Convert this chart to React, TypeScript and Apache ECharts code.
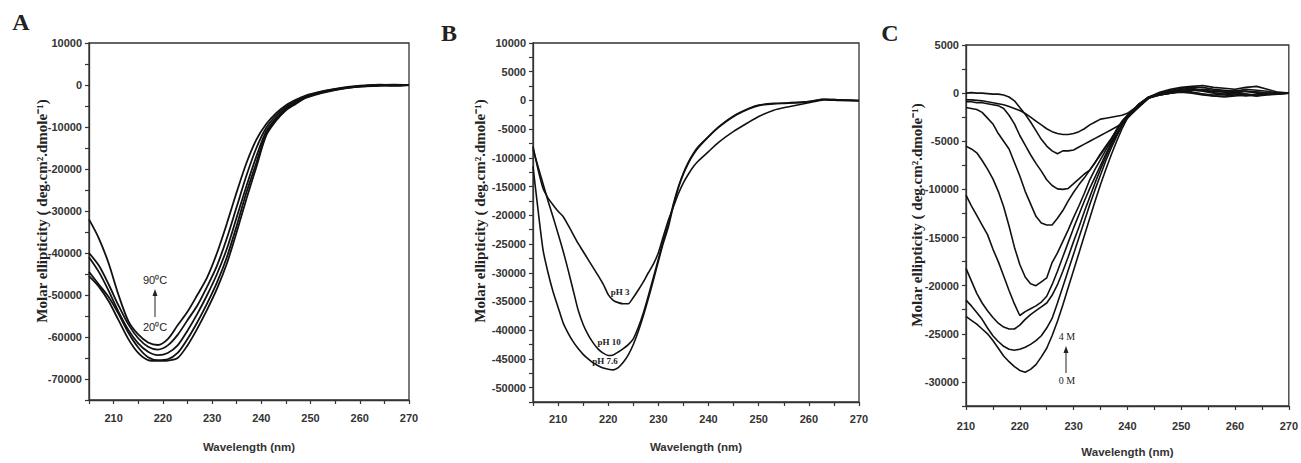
import React, { useEffect, useRef } from "react";
import * as echarts from "echarts";

// ---------- Panel A (temperature) ----------
const wlA = [205, 207, 209, 211, 213, 215, 217, 219, 221, 223, 225, 227, 229, 231, 233, 235, 237, 239, 241, 243, 245, 247, 249, 252, 255, 258, 261, 264, 267, 270];
const tempA1 = [-32000, -36500, -42500, -50000, -56200, -59400, -61300, -61900, -60500, -57200, -54000, -50000, -45800, -40000, -33000, -25500, -18500, -13000, -9300, -6700, -4800, -3500, -2500, -1600, -900, -400, -100, 100, -100, 0];
const tempA2 = [-40000, -43000, -47500, -52500, -57000, -60300, -62300, -63000, -62000, -59500, -56000, -52500, -48000, -43000, -36500, -29000, -21500, -15000, -10200, -7300, -5200, -3800, -2700, -1700, -1000, -500, -200, 0, 100, 0];
const tempA3 = [-41000, -44500, -49000, -54000, -58300, -61500, -63500, -64300, -63800, -62000, -58500, -54500, -50000, -45000, -39000, -31500, -24000, -17000, -11000, -7900, -5600, -4100, -2900, -1800, -1100, -500, -200, -100, 0, 0];
const tempA4 = [-44500, -47500, -50500, -54500, -59000, -62500, -64800, -65500, -65300, -63800, -60500, -56500, -52000, -47000, -41000, -33500, -25500, -18500, -11500, -8200, -5800, -4300, -3000, -1900, -1100, -600, -300, -200, 0, 0];
const tempA5 = [-45500, -48000, -51500, -56000, -60500, -63800, -65500, -65700, -65600, -65000, -62000, -58000, -53500, -48500, -42500, -35000, -27000, -19500, -12000, -8500, -6000, -4500, -3100, -2000, -1200, -600, -300, -100, -200, 0];
const xMajorA = [210, 220, 230, 240, 250, 260, 270];
const xTicksA = [205, 210, 215, 220, 225, 230, 235, 240, 245, 250, 255, 260, 265, 270];
const yMajorA = [10000, 0, -10000, -20000, -30000, -40000, -50000, -60000, -70000];
const yTicksA = [10000, 5000, 0, -5000, -10000, -15000, -20000, -25000, -30000, -35000, -40000, -45000, -50000, -55000, -60000, -65000, -70000, -75000];

// ---------- Panel B (pH) ----------
const wlB = [205, 206, 207, 208, 209, 210, 211, 212, 213, 214, 215, 216, 217, 218, 219, 220, 221, 222, 223, 224, 225, 226, 227, 228, 229, 230, 231, 232, 233, 234, 235, 236, 237, 238, 240, 242, 245, 248, 250, 253, 256, 260, 263, 266, 270];
const pH3 = [-8000, -12000, -15300, -17000, -18200, -19300, -20200, -21700, -23300, -24900, -26300, -27700, -29100, -30500, -32000, -33800, -34800, -35200, -35400, -35400, -34300, -33000, -31600, -30000, -28500, -26500, -23600, -20800, -18500, -16200, -14300, -12800, -11500, -10500, -8900, -7300, -5400, -3800, -2800, -1700, -1100, -400, 100, 0, -100];
const pH10 = [-8500, -11500, -14500, -17500, -20300, -23200, -26200, -29500, -33000, -36500, -39000, -40800, -42200, -43300, -44000, -44400, -44300, -43800, -43200, -42500, -41500, -39500, -37000, -34000, -30800, -27600, -24300, -21500, -18000, -15000, -12600, -10700, -9200, -8000, -6300, -4700, -2800, -1500, -900, -600, -500, -200, 200, 100, 0];
const pH76 = [-11500, -19000, -26000, -30000, -33300, -36000, -38700, -40500, -42000, -43200, -44200, -45000, -45700, -46200, -46600, -46800, -46900, -46500, -45600, -44300, -42500, -40200, -37500, -34500, -31300, -28000, -24800, -22000, -18300, -15200, -12800, -10900, -9400, -8200, -6300, -4600, -2700, -1400, -800, -500, -400, -200, 200, 100, 0];
const xMajorB = [210, 220, 230, 240, 250, 260, 270];
const xTicksB = [205, 210, 215, 220, 225, 230, 235, 240, 245, 250, 255, 260, 265, 270];
const yMajorB = [10000, 5000, 0, -5000, -10000, -15000, -20000, -25000, -30000, -35000, -40000, -45000, -50000];
const yTicksB = [10000, 7500, 5000, 2500, 0, -2500, -5000, -7500, -10000, -12500, -15000, -17500, -20000, -22500, -25000, -27500, -30000, -32500, -35000, -37500, -40000, -42500, -45000, -47500, -50000, -52500];

// ---------- Panel C (denaturant 0 M .. 4 M) ----------
const wlC = [210, 211, 212, 213, 214, 215, 216, 217, 218, 219, 220, 221, 222, 223, 224, 225, 226, 227, 228, 229, 230, 231, 232, 233, 234, 235, 236, 237, 238, 239, 240, 242, 244, 246, 248, 250, 252, 254, 256, 258, 260, 262, 264, 266, 268, 270];
const c1 = [-700, -700, -750, -800, -900, -1000, -1100, -1200, -1400, -1600, -1800, -2100, -2500, -2900, -3300, -3700, -4000, -4200, -4300, -4300, -4200, -4000, -3700, -3300, -3000, -2700, -2600, -2500, -2400, -2300, -2100, -1300, -400, 100, 400, 600, 700, 800, 600, 500, 400, 600, 700, 400, 100, 0];
const c2 = [0, 50, 0, 0, -50, -100, -100, -200, -400, -800, -1500, -2200, -3000, -3900, -4800, -5500, -6000, -6300, -6000, -6000, -5900, -5600, -5300, -5000, -4700, -4400, -4100, -3800, -3500, -3100, -2600, -1500, -500, 0, 300, 500, 600, 600, 400, 300, 200, 400, 300, 200, 0, 0];
const c3 = [-900, -900, -1000, -1000, -1100, -1200, -1300, -1600, -2300, -3200, -4400, -5400, -6400, -7300, -8100, -9000, -9600, -9950, -10000, -9900, -9400, -8900, -8400, -8000, -7200, -6300, -5500, -4700, -3800, -3000, -2500, -1500, -500, -100, 200, 300, 300, 200, 0, -100, 0, 200, 100, 0, -100, 0];
const c4 = [-1500, -1600, -1700, -2000, -2600, -3200, -4200, -5000, -5800, -7200, -8600, -10200, -11500, -12800, -13500, -13700, -13700, -13000, -12200, -11200, -10300, -9500, -8800, -8000, -7200, -6400, -5600, -4800, -3800, -2900, -2300, -1400, -500, -200, 0, 100, 0, -200, -300, -300, -200, -100, -300, -200, -100, 0];
const c5 = [-5500, -5800, -6200, -7000, -7900, -8900, -10200, -11800, -13800, -16000, -17800, -19100, -19800, -20000, -19600, -19200, -17600, -16600, -15400, -14200, -12900, -11700, -10400, -9000, -7900, -6900, -5900, -5000, -3900, -3000, -2300, -1300, -400, -100, 100, 200, 100, -100, -200, -100, -200, -300, -200, -100, 0, 0];
const c6 = [-10600, -11700, -12700, -13700, -14700, -16200, -17500, -19000, -20500, -21900, -23100, -22700, -22400, -22100, -21700, -21100, -19900, -18500, -17000, -15500, -14000, -12600, -11200, -9900, -8700, -7500, -6300, -5200, -4200, -3300, -2500, -1200, -400, -100, 100, 300, 400, 300, 100, 200, 300, 200, 0, -100, 0, 0];
const c7 = [-18200, -19500, -20800, -21800, -22600, -23300, -23900, -24300, -24500, -24500, -24100, -23500, -23000, -22600, -22200, -21800, -21000, -19900, -18500, -17000, -15400, -13900, -12300, -10800, -9300, -7900, -6600, -5400, -4300, -3300, -2500, -1200, -400, -200, 0, 200, 100, -100, -300, -400, -300, -200, -300, -100, 0, 0];
const c8 = [-21500, -22100, -22800, -23500, -24400, -25200, -25800, -26300, -26600, -26700, -26600, -26400, -26100, -25700, -25200, -24400, -23400, -21800, -20100, -18400, -16700, -15000, -13300, -11600, -10000, -8500, -7000, -5700, -4500, -3400, -2500, -1200, -400, -100, 200, 400, 500, 300, 200, 100, 0, -100, -200, -100, 0, 0];
const c9 = [-23200, -23600, -24000, -24500, -25000, -25700, -26500, -27300, -27900, -28400, -28800, -29000, -28700, -28200, -27400, -26500, -25200, -23700, -22000, -20200, -18400, -16600, -14800, -13000, -11200, -9500, -7900, -6400, -5000, -3700, -2600, -1300, -500, -200, 0, 200, 300, 400, 300, 200, 100, 200, 100, 0, 0, 0];
const xMajorC = [210, 220, 230, 240, 250, 260, 270];
const xTicksC = [210, 215, 220, 225, 230, 235, 240, 245, 250, 255, 260, 265, 270];
const yMajorC = [5000, 0, -5000, -10000, -15000, -20000, -25000, -30000];
const yTicksC = [5000, 2500, 0, -2500, -5000, -7500, -10000, -12500, -15000, -17500, -20000, -22500, -25000, -27500, -30000, -32500];

const SANS = "'Liberation Sans Narrow', 'Arial Narrow', 'Liberation Sans', Arial, sans-serif";
const SERIF = "'Liberation Serif', 'Times New Roman', serif";
const INK = "#222";

function pairs(xs: number[], ys: number[]) {
  return xs.map((x, i) => [x, ys[i]]);
}

const plain = (v: number) => String(v);

function xAxisCfg(gridIndex: number, min: number, max: number, majors: number[], ticks: number[], margin: number, nameGap: number) {
  return {
    type: "value", gridIndex, min, max, position: "bottom",
    name: "Wavelength (nm)", nameLocation: "middle", nameGap,
    nameTextStyle: { fontFamily: SANS, fontSize: 11.5, fontWeight: "bold", color: "#333" },
    axisLine: { show: true, onZero: false, lineStyle: { color: "#333", width: 1.3 } },
    axisTick: { show: true, inside: false, length: 4, customValues: ticks, lineStyle: { color: "#333", width: 1.2 } },
    axisLabel: { customValues: majors, formatter: plain, margin, fontFamily: SANS, fontSize: 11, fontWeight: "bold", color: "#333" },
    splitLine: { show: false },
  };
}

function yAxisCfg(gridIndex: number, min: number, max: number, majors: number[], ticks: number[]) {
  return {
    type: "value", gridIndex, min, max, position: "left",
    axisLine: { show: true, onZero: false, lineStyle: { color: "#333", width: 1.3 } },
    axisTick: { show: true, inside: false, length: 4, customValues: ticks, lineStyle: { color: "#333", width: 1.2 } },
    axisLabel: { customValues: majors, formatter: plain, margin: 7, fontFamily: SANS, fontSize: 11, fontWeight: "bold", color: "#333" },
    splitLine: { show: false },
  };
}

function lineSeries(xi: number, data: number[][], width: number, smooth: number | boolean) {
  return {
    type: "line", xAxisIndex: xi, yAxisIndex: xi, data, showSymbol: false, symbol: "none",
    smooth, lineStyle: { color: "#111", width }, silent: true,
  };
}

function vtext(x: number, y: number, text: string) {
  return {
    type: "text", x, y, rotation: Math.PI / 2,
    style: { text, fill: INK, font: `bold 15px ${SERIF}`, textAlign: "center", textVerticalAlign: "middle" },
  };
}

function txt(x: number, y: number, text: string, font: string) {
  return { type: "text", x, y, style: { text, fill: INK, font, textAlign: "center", textVerticalAlign: "middle" } };
}

function arrow(x: number, yTip: number, yEnd: number) {
  return [
    { type: "line", shape: { x1: x, y1: yTip + 6, x2: x, y2: yEnd }, style: { stroke: INK, lineWidth: 1 } },
    { type: "polygon", shape: { points: [[x, yTip], [x - 2.5, yTip + 7], [x + 2.5, yTip + 7]] }, style: { fill: INK } },
  ];
}

export default function App() {
  const ref = useRef<HTMLDivElement>(null);
  useEffect(() => {
    if (!ref.current) return;
    const chart = echarts.init(ref.current, null, { renderer: "svg" });
    const gridStyle = { show: true, borderColor: "#333", borderWidth: 1.3, backgroundColor: "transparent" };
    chart.setOption({
      animation: false,
      backgroundColor: "#fff",
      grid: [
        { left: 89, top: 43, width: 320, height: 357, ...gridStyle },
        { left: 533, top: 43, width: 326, height: 359, ...gridStyle },
        { left: 966, top: 45, width: 327, height: 362, ...gridStyle },
      ],
      xAxis: [
        xAxisCfg(0, 205, 270, xMajorA, xTicksA, 12, 41),
        xAxisCfg(1, 205, 270, xMajorB, xTicksB, 11, 39),
        xAxisCfg(2, 210, 270, xMajorC, xTicksC, 14, 40),
      ],
      yAxis: [
        yAxisCfg(0, -75000, 10000, yMajorA, yTicksA),
        yAxisCfg(1, -52500, 10000, yMajorB, yTicksB),
        yAxisCfg(2, -32500, 5000, yMajorC, yTicksC),
      ],
      series: [
        lineSeries(0, pairs(wlA, tempA1), 1.8, 0.3),
        lineSeries(0, pairs(wlA, tempA2), 1.8, 0.3),
        lineSeries(0, pairs(wlA, tempA3), 1.8, 0.3),
        lineSeries(0, pairs(wlA, tempA4), 1.8, 0.3),
        lineSeries(0, pairs(wlA, tempA5), 1.8, 0.3),
        lineSeries(1, pairs(wlB, pH3), 1.6, 0.2),
        lineSeries(1, pairs(wlB, pH10), 1.6, 0.2),
        lineSeries(1, pairs(wlB, pH76), 1.6, 0.2),
        lineSeries(2, pairs(wlC, c1), 1.6, false),
        lineSeries(2, pairs(wlC, c2), 1.6, false),
        lineSeries(2, pairs(wlC, c3), 1.6, false),
        lineSeries(2, pairs(wlC, c4), 1.6, false),
        lineSeries(2, pairs(wlC, c5), 1.6, false),
        lineSeries(2, pairs(wlC, c6), 1.6, false),
        lineSeries(2, pairs(wlC, c7), 1.6, false),
        lineSeries(2, pairs(wlC, c8), 1.6, false),
        lineSeries(2, pairs(wlC, c9), 1.6, false),
      ],
      graphic: [
        txt(21, 22, "A", `bold 24px ${SERIF}`),
        txt(449, 33, "B", `bold 24px ${SERIF}`),
        txt(890, 33, "C", `bold 24px ${SERIF}`),
        vtext(42, 211, "Molar ellipticity ( deg.cm\u00B2.dmole\u207B\u00B9)"),
        vtext(480, 211, "Molar ellipticity ( deg.cm\u00B2.dmole\u207B\u00B9)"),
        vtext(917, 215, "Molar ellipticity ( deg.cm\u00B2.dmole\u207B\u00B9)"),
        txt(155, 280, "90\u2070C", `11px ${SANS}`),
        txt(155, 327, "20\u2070C", `11px ${SANS}`),
        ...arrow(155, 289, 317),
        txt(620, 292, "pH 3", `bold 9px ${SERIF}`),
        txt(609, 342, "pH 10", `bold 9px ${SERIF}`),
        txt(605, 361, "pH 7.6", `bold 9px ${SERIF}`),
        txt(1067, 336, "4 M", `10px ${SERIF}`),
        txt(1067, 380, "0 M", `10px ${SERIF}`),
        ...arrow(1066, 346, 373),
      ],
    });
    return () => chart.dispose();
  }, []);
  return <div ref={ref} style={{ position: "absolute", left: 0, top: 0, width: 1301, height: 463 }} />;
}
